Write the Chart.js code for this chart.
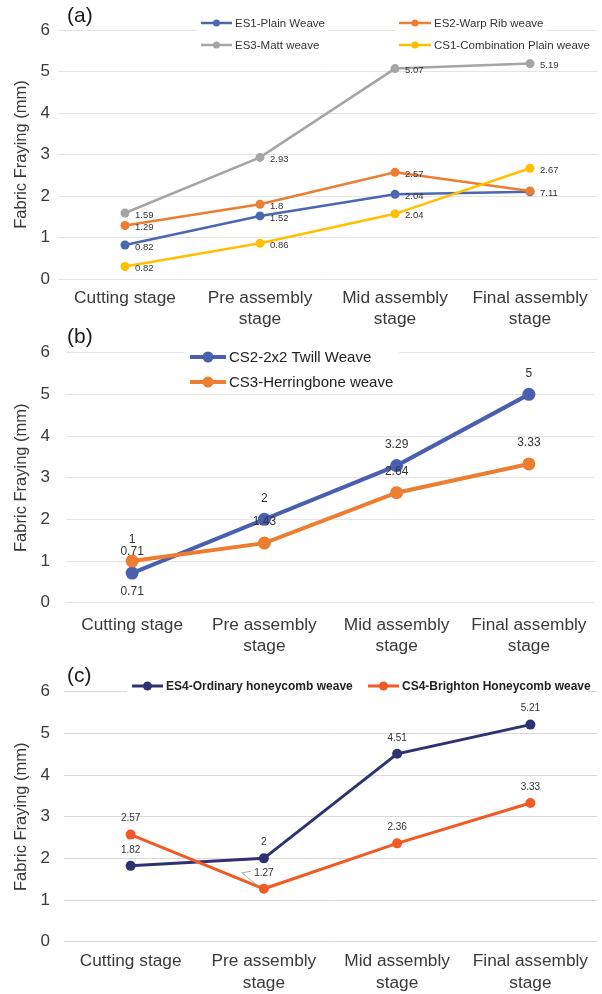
<!DOCTYPE html>
<html>
<head>
<meta charset="utf-8">
<title>Fabric fraying by stage</title>
<script src="https://cdn.jsdelivr.net/npm/chart.js@4.4.1/dist/chart.umd.min.js"></script>
<style>
  body { margin: 0; background: #fff; }
  #page { position: relative; width: 602px; height: 994px; overflow: hidden; }
  #page canvas { position: absolute; left: 0; }
</style>
</head>
<body>
<div id="page">
  <canvas id="chartA" width="602" height="332" style="top:0;width:602px;height:332px"></canvas>
  <canvas id="chartB" width="602" height="340" style="top:320px;width:602px;height:340px"></canvas>
  <canvas id="chartC" width="602" height="339" style="top:655px;width:602px;height:339px"></canvas>
</div>
<script>
// ---- data ----
const stages = [['Cutting stage'], ['Pre assembly', 'stage'], ['Mid assembly', 'stage'], ['Final assembly', 'stage']];
const yTicks = [0, 1, 2, 3, 4, 5, 6];

// (a)
const es1Plain = [0.82, 1.52, 2.04, 2.10];
const es2WarpRib = [1.29, 1.8, 2.57, 2.12];
const es3Matt = [1.59, 2.93, 5.07, 5.19];
const cs1Combination = [0.30, 0.86, 1.57, 2.67];
// printed labels (null = print the value itself, '' = no label)
const es1Text = [null, null, null, ''];
const es2Text = [null, null, null, '7.11'];
const es3Text = [null, null, null, null];
const cs1Text = ['0.82', null, '2.04', null];

// (b)
const cs2Twill = [0.71, 2, 3.29, 5];
const cs3Herringbone = [1, 1.43, 2.64, 3.33];
const cs2BelowText = ['0.71', '', '', ''];

// (c)
const es4Ordinary = [1.82, 2, 4.51, 5.21];
const cs4Brighton = [2.57, 1.27, 2.36, 3.33];

const FONT = "'Liberation Sans', Arial, sans-serif";
const INK = '#3a3a3a';

// ---- value labels, legend boxes and panel letters ----
const annotate = {
  id: 'annotate',
  afterDatasetsDraw(chart, args, o) {
    const ctx = chart.ctx;
    ctx.save();
    ctx.fillStyle = '#333';
    ctx.font = o.labelFont;
    chart.data.datasets.forEach((ds, i) => {
      const meta = chart.getDatasetMeta(i);
      meta.data.forEach((pt, j) => {
        let txt = ds.pointText ? ds.pointText[j] : null;
        if (txt === null || txt === undefined) txt = String(ds.data[j]);
        if (txt) {
          if (o.place === 'right') {
            ctx.textAlign = 'left';
            ctx.textBaseline = 'middle';
            ctx.fillText(txt, pt.x + 10, pt.y + 2);
          } else {
            ctx.textAlign = 'center';
            ctx.textBaseline = 'middle';
            ctx.fillText(txt, pt.x, pt.y - o.above);
          }
        }
        if (ds.belowText && ds.belowText[j]) {
          ctx.textAlign = 'center';
          ctx.textBaseline = 'middle';
          ctx.fillText(ds.belowText[j], pt.x, pt.y + 19);
        }
      });
    });

    // callout line for a label sitting off its point
    if (o.leader) {
      const pt = chart.getDatasetMeta(o.leader.dataset).data[o.leader.index];
      ctx.strokeStyle = '#9a9a9a';
      ctx.lineWidth = 0.8;
      ctx.beginPath();
      ctx.moveTo(pt.x - 6, pt.y - 3);
      ctx.lineTo(pt.x - 22, pt.y - 16);
      ctx.lineTo(pt.x - 13, pt.y - 17.5);
      ctx.stroke();
    }

    // legend
    o.legendBoxes.forEach(b => {
      ctx.fillStyle = '#fff';
      ctx.fillRect(b[0], b[1], b[2], b[3]);
    });
    ctx.font = o.legendFont;
    ctx.textAlign = 'left';
    ctx.textBaseline = 'middle';
    o.legend.forEach(item => {
      const ds = chart.data.datasets[item.ds];
      ctx.strokeStyle = ds.borderColor;
      ctx.lineWidth = o.legendLine;
      ctx.beginPath();
      ctx.moveTo(item.x0, item.y);
      ctx.lineTo(item.x1, item.y);
      ctx.stroke();
      ctx.fillStyle = ds.borderColor;
      ctx.beginPath();
      ctx.arc((item.x0 + item.x1) / 2, item.y, o.legendDot, 0, Math.PI * 2);
      ctx.fill();
      ctx.fillStyle = o.legendColor;
      ctx.fillText(ds.label, item.x1 + 3, item.y + 0.5);
    });

    // panel letter
    ctx.font = '21px ' + FONT;
    ctx.fillStyle = '#1a1a1a';
    ctx.textAlign = 'left';
    ctx.fillText(o.letter[0], o.letter[1], o.letter[2]);
    ctx.restore();
  }
};

function series(label, data, color, width, radius, order, extra) {
  return Object.assign({
    label: label,
    data: data,
    borderColor: color,
    backgroundColor: color,
    borderWidth: width,
    pointRadius: radius,
    pointHoverRadius: radius,
    pointBorderWidth: 0,
    tension: 0,
    order: order
  }, extra || {});
}

function makeChart(id, box, datasets, ann) {
  return new Chart(document.getElementById(id), {
    type: 'line',
    data: { labels: stages, datasets: datasets },
    options: {
      responsive: false,
      animation: false,
      events: [],
      layout: { padding: { top: box.top, right: box.right, bottom: 0, left: 0 } },
      plugins: { legend: { display: false }, tooltip: { enabled: false }, annotate: ann },
      scales: {
        x: {
          offset: true,
          grid: { display: false, drawTicks: false },
          border: { display: false },
          ticks: {
            padding: box.xPad, color: INK, maxRotation: 0, autoSkip: false,
            font: { family: FONT, size: 17.3, lineHeight: 1.25 }
          },
          afterFit: s => { s.height = box.bottom; }
        },
        y: {
          min: 0, max: 6,
          afterBuildTicks: s => { s.ticks = yTicks.map(v => ({ value: v })); },
          grid: { color: box.grid, drawTicks: false },
          border: { display: false },
          ticks: { padding: box.yPad, color: INK, font: { family: FONT, size: 17 } },
          title: {
            display: true, text: 'Fabric Fraying (mm)', color: INK,
            font: { family: FONT, size: 16.5 }, padding: { top: 12, bottom: 0 }
          },
          afterFit: s => { s.width = box.left; }
        }
      }
    },
    plugins: [annotate]
  });
}

// (a) plain / rib / matt / combination weaves
makeChart('chartA', { top: 30, right: 4.5, bottom: 53, left: 57.5, xPad: 8, yPad: 7.5, grid: '#e4e4e4' }, [
  series('ES1-Plain Weave', es1Plain, '#4a67b0', 2.5, 4.5, 4, { pointText: es1Text }),
  series('ES2-Warp Rib weave', es2WarpRib, '#ed7d31', 2.5, 4.5, 3, { pointText: es2Text }),
  series('ES3-Matt weave', es3Matt, '#a5a5a5', 2.5, 4.5, 2, { pointText: es3Text }),
  series('CS1-Combination Plain weave', cs1Combination, '#ffc000', 2.5, 4.5, 1, { pointText: cs1Text })
], {
  place: 'right', labelFont: '9.5px ' + FONT,
  legendFont: '11.5px ' + FONT, legendColor: '#333', legendLine: 2.5, legendDot: 3.5,
  legendBoxes: [[198, 14, 130, 18], [396, 14, 150, 18]],
  legend: [
    { ds: 0, x0: 201, x1: 232, y: 23 },
    { ds: 1, x0: 399, x1: 431, y: 23 },
    { ds: 2, x0: 201, x1: 232, y: 45 },
    { ds: 3, x0: 399, x1: 431, y: 45 }
  ],
  letter: ['(a)', 67, 16]
});

// (b) twill / herringbone
makeChart('chartB', { top: 32.7, right: 7, bottom: 57.3, left: 66, xPad: 11.5, yPad: 16, grid: '#e4e4e4' }, [
  series('CS2-2x2 Twill Weave', cs2Twill, '#4a5fae', 4, 6.5, 2, { belowText: cs2BelowText }),
  series('CS3-Herringbone weave', cs3Herringbone, '#ed7d31', 4, 6.5, 1)
], {
  place: 'above', above: 21, labelFont: '12px ' + FONT,
  legendFont: '15px ' + FONT, legendColor: '#222', legendLine: 4, legendDot: 5.5,
  legendBoxes: [[184, 23, 215, 49]],
  legend: [
    { ds: 0, x0: 190, x1: 226, y: 37 },
    { ds: 1, x0: 190, x1: 226, y: 62 }
  ],
  letter: ['(b)', 67, 17]
});

// (c) honeycomb weaves
makeChart('chartC', { top: 36.7, right: 0, bottom: 52.3, left: 64, xPad: 9, yPad: 14, grid: '#d9d9d9' }, [
  series('ES4-Ordinary honeycomb weave', es4Ordinary, '#2e3270', 3, 5, 2),
  series('CS4-Brighton Honeycomb weave', cs4Brighton, '#f15a24', 3, 5, 1)
], {
  place: 'above', above: 16, labelFont: '10px ' + FONT,
  leader: { dataset: 1, index: 1 },
  legendFont: 'bold 12px ' + FONT, legendColor: '#222', legendLine: 3, legendDot: 4.5,
  legendBoxes: [[127, 22, 461, 18]],
  legend: [
    { ds: 0, x0: 132, x1: 163, y: 31 },
    { ds: 1, x0: 368, x1: 399, y: 31 }
  ],
  letter: ['(c)', 67, 21]
});
</script>
</body>
</html>
